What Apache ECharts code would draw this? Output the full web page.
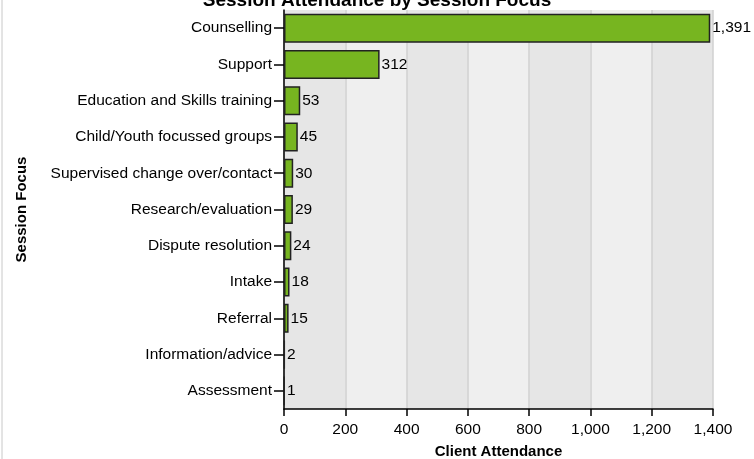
<!DOCTYPE html>
<html>
<head>
<meta charset="utf-8">
<script src="https://cdn.jsdelivr.net/npm/echarts@6/dist/echarts.min.js"></script>
<style>
  body { margin: 0; background: #fff; }
  #main { width: 754px; height: 459px; }
</style>
</head>
<body>
<div id="main"></div>
<script>
// categories, top to bottom
const focusNames = [
  'Counselling', 'Support', 'Education and Skills training', 'Child/Youth focussed groups',
  'Supervised change over/contact', 'Research/evaluation', 'Dispute resolution',
  'Intake', 'Referral', 'Information/advice', 'Assessment'
];
const attendance = [1391, 312, 53, 45, 30, 29, 24, 18, 15, 2, 1];
const xTicks = [0, 200, 400, 600, 800, 1000, 1200, 1400];

const myChart = echarts.init(document.getElementById('main'));
const font = 'Liberation Sans';

let option = {
  animation: false,
  textStyle: { fontFamily: font },
  title: {
    text: 'Session Attendance by Session Focus',
    left: 'center',
    top: -14,
    textStyle: { fontSize: 19, fontWeight: 'bold', color: '#000', fontFamily: font }
  },
  grid: { left: 284, right: 41, top: 10, bottom: 50, outerBoundsMode: 'none', containLabel: false },
  xAxis: {
    type: 'value',
    min: xTicks[0],
    max: xTicks[xTicks.length - 1],
    interval: 200,
    name: 'Client Attendance',
    nameLocation: 'middle',
    nameGap: 35,
    nameTextStyle: { fontSize: 15, fontWeight: 'bold', color: '#000' },
    axisLine: { show: true, lineStyle: { color: '#000', width: 1.5 } },
    axisTick: { show: true, length: 7, lineStyle: { color: '#000', width: 1.5 } },
    axisLabel: {
      fontSize: 15.5, color: '#000', margin: 13,
      formatter: v => v.toLocaleString('en-US')
    },
    splitLine: { show: true, lineStyle: { color: '#d0d0d0', width: 1.5 } },
    splitArea: { show: true, areaStyle: { color: ['#e6e6e6', '#efefef'] } }
  },
  yAxis: {
    type: 'category',
    inverse: true,
    data: focusNames,
    name: 'Session Focus',
    nameLocation: 'middle',
    nameRotate: 90,
    nameGap: 255,
    nameTextStyle: { fontSize: 15, fontWeight: 'bold', color: '#000' },
    axisLine: { show: true, lineStyle: { color: '#000', width: 1.5 } },
    axisTick: { show: true, alignWithLabel: true, length: 10, lineStyle: { color: '#000', width: 1.5 } },
    axisLabel: { fontSize: 15.5, color: '#000', margin: 12 }
  },
  series: [{
    type: 'bar',
    data: attendance,
    barCategoryGap: '20%',
    itemStyle: { color: '#77b520', borderColor: '#222', borderWidth: 1.5 },
    label: {
      show: true,
      position: 'right',
      distance: 2,
      fontSize: 15.5,
      color: '#000',
      formatter: p => p.value.toLocaleString('en-US')
    }
  }],
  graphic: [{
    type: 'line',
    shape: { x1: 2, y1: 0, x2: 2, y2: 459 },
    style: { stroke: '#c8c8c8', lineWidth: 1 }
  }]
};
myChart.setOption(option);
</script>
</body>
</html>
